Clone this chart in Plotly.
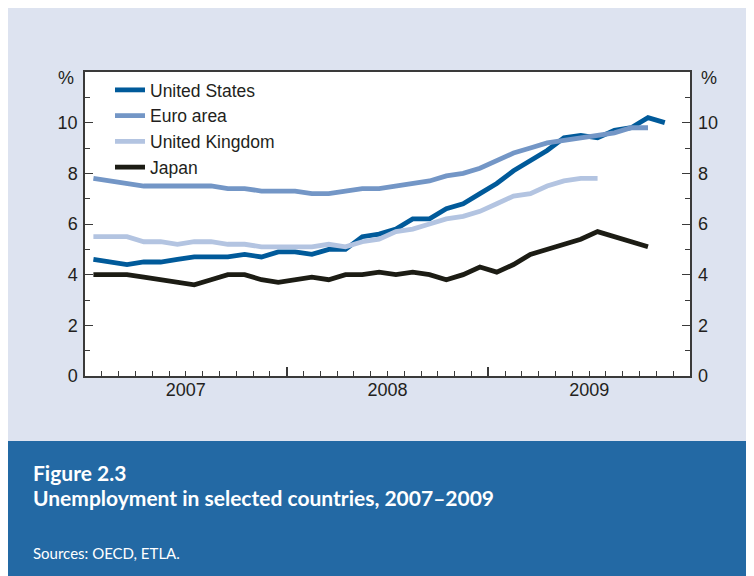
import plotly.graph_objects as go

# Monthly data, Jan 2007 onwards (index 0 = Jan 2007)
united_states = [4.6, 4.5, 4.4, 4.5, 4.5, 4.6, 4.7, 4.7, 4.7, 4.8, 4.7, 4.9,
                 4.9, 4.8, 5.0, 5.0, 5.5, 5.6, 5.8, 6.2, 6.2, 6.6, 6.8, 7.2,
                 7.6, 8.1, 8.5, 8.9, 9.4, 9.5, 9.4, 9.7, 9.8, 10.2, 10.0]
euro_area = [7.8, 7.7, 7.6, 7.5, 7.5, 7.5, 7.5, 7.5, 7.4, 7.4, 7.3, 7.3,
             7.3, 7.2, 7.2, 7.3, 7.4, 7.4, 7.5, 7.6, 7.7, 7.9, 8.0, 8.2,
             8.5, 8.8, 9.0, 9.2, 9.3, 9.4, 9.5, 9.6, 9.8, 9.8]
united_kingdom = [5.5, 5.5, 5.5, 5.3, 5.3, 5.2, 5.3, 5.3, 5.2, 5.2, 5.1, 5.1,
                  5.1, 5.1, 5.2, 5.1, 5.3, 5.4, 5.7, 5.8, 6.0, 6.2, 6.3, 6.5,
                  6.8, 7.1, 7.2, 7.5, 7.7, 7.8, 7.8]
japan = [4.0, 4.0, 4.0, 3.9, 3.8, 3.7, 3.6, 3.8, 4.0, 4.0, 3.8, 3.7,
         3.8, 3.9, 3.8, 4.0, 4.0, 4.1, 4.0, 4.1, 4.0, 3.8, 4.0, 4.3,
         4.1, 4.4, 4.8, 5.0, 5.2, 5.4, 5.7, 5.5, 5.3, 5.1]

series_names = ["United States", "Euro area", "United Kingdom", "Japan"]
series_values = [united_states, euro_area, united_kingdom, japan]
series_colors = ["#005a9a", "#7396c6", "#b3c4e1", "#1c1c14"]

year_labels = ["2007", "2008", "2009"]
year_label_pos = [6, 18, 30]      # mid-year, in months from Jan 2007
year_bounds = [12, 24]
y_tick_vals = [0, 2, 4, 6, 8, 10]

FONT = "Liberation Sans, Arial, sans-serif"
TXT = "#231f20"
AX = "#3a3a3a"

fig = go.Figure()
for name, vals, col in zip(series_names, series_values, series_colors):
    fig.add_trace(go.Scatter(
        x=[i + 0.5 for i in range(len(vals))], y=vals, name=name,
        mode="lines", line=dict(color=col, width=4.8), xaxis="x", yaxis="y"))

# invisible trace binding the right axis / the second x axis
fig.add_trace(go.Scatter(x=[0], y=[0], xaxis="x2", yaxis="y2", mode="lines",
                         line=dict(width=0), showlegend=False, hoverinfo="skip"))

W, H = 746, 568   # figure sits inside the page's 8px body margin
L, R, T, B = 77, 64, 64, 200
pw = W - L - R
ph = H - T - B
OFF = 8  # page margin offset of the figure on screen


def sx(x_screen):
    return (x_screen - OFF - L) / pw


def sy(y_screen):
    return (H - B - (y_screen - OFF)) / ph


minor_y = dict(tickvals=[1, 3, 5, 7, 9, 11], ticks="inside", ticklen=5,
               tickcolor=AX, tickwidth=1.2)

fig.update_layout(
    width=W, height=H,
    margin=dict(l=L, r=R, t=T, b=B, pad=0),
    paper_bgcolor="#dde3f0", plot_bgcolor="white",
    font=dict(family=FONT, size=18, color=TXT),
    showlegend=True,
    legend=dict(x=sx(110), y=sy(72), xanchor="left", yanchor="top",
                bgcolor="rgba(0,0,0,0)", font=dict(size=17.5, color=TXT),
                itemwidth=30),
    xaxis=dict(range=[0, 36], showline=True, linecolor=AX, linewidth=1.5,
               mirror=True, tickmode="array", tickvals=year_label_pos,
               ticktext=year_labels, ticks="inside", ticklen=5, tickcolor=AX,
               tickwidth=1.2, ticklabelstandoff=-3,
               minor=dict(dtick=1, tick0=0, ticks="inside", ticklen=5,
                          tickcolor=AX, tickwidth=1.2),
               showgrid=False, zeroline=False),
    xaxis2=dict(range=[0, 36], overlaying="x", anchor="y", side="bottom",
                tickmode="array", tickvals=year_bounds, ticktext=["", ""],
                ticks="inside", ticklen=9, tickcolor=AX, tickwidth=1.5,
                showline=False, showgrid=False, zeroline=False),
    yaxis=dict(range=[0, 12], showline=True, linecolor=AX, linewidth=1.5,
               mirror=True, tickmode="array", tickvals=y_tick_vals,
               ticks="inside", ticklen=8, tickcolor=AX, tickwidth=1.2,
               ticklabelstandoff=2, minor=minor_y,
               showgrid=False, zeroline=False),
    yaxis2=dict(range=[0, 12], overlaying="y", side="right", anchor="x",
                tickmode="array", tickvals=y_tick_vals,
                ticks="inside", ticklen=8, tickcolor=AX, tickwidth=1.2,
                ticklabelstandoff=7, minor=minor_y,
                showline=False, showgrid=False, zeroline=False),
    shapes=[
        dict(type="rect", xref="paper", yref="paper", layer="below",
             x0=sx(0), x1=sx(W + 40), y0=sy(H + 40), y1=sy(441),
             fillcolor="#2369a4", line=dict(width=0)),
    ],
    annotations=[
        dict(text="%", xref="paper", yref="paper", x=sx(76), y=sy(78),
             xanchor="right", yanchor="middle", showarrow=False,
             font=dict(size=18, color=TXT)),
        dict(text="%", xref="paper", yref="paper", x=sx(699), y=sy(78),
             xanchor="left", yanchor="middle", showarrow=False,
             font=dict(size=18, color=TXT)),
        dict(text="<b>Figure 2.3</b>", xref="paper", yref="paper",
             x=sx(31), y=sy(472), xanchor="left", yanchor="middle",
             showarrow=False, font=dict(family="Lato", size=21, color="white")),
        dict(text="<b>Unemployment in selected countries, 2007–2009</b>",
             xref="paper", yref="paper", x=sx(31), y=sy(497),
             xanchor="left", yanchor="middle", showarrow=False,
             font=dict(family="Lato", size=21, color="white")),
        dict(text="Sources: OECD, ETLA.", xref="paper", yref="paper",
             x=sx(31), y=sy(553), xanchor="left", yanchor="middle",
             showarrow=False, font=dict(family="Lato", size=15, color="white")),
    ],
)

fig.write_html("out.html")
